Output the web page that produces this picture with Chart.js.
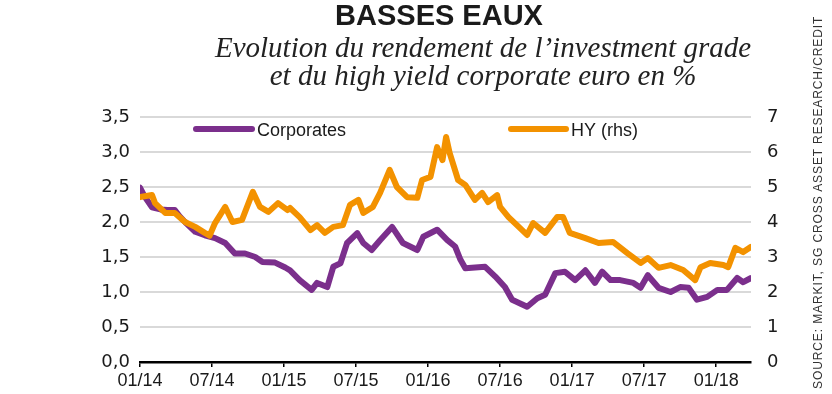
<!DOCTYPE html>
<html>
<head>
<meta charset="utf-8">
<script src="https://cdn.jsdelivr.net/npm/chart.js@4.4.0/dist/chart.umd.min.js"></script>
<style>
    html, body { margin: 0; padding: 0; background: #fff; }
    #wrap { position: relative; width: 832px; height: 394px; overflow: hidden; }
    #chart { position: absolute; left: 0; top: 0; }
    .title { position: absolute; left: 439px; top: 0px; transform: translateX(-50%); font: bold 29px "Liberation Sans", Arial, sans-serif; color: #1a1a1a; white-space: nowrap; line-height: 30px; }
    .sub { position: absolute; left: 483px; transform: translateX(-50%); font: italic 29px "Liberation Serif", serif; color: #222; white-space: nowrap; line-height: 30px; }
    .source { position: absolute; left: 811px; top: 5px; height: 384px; writing-mode: vertical-rl; transform: rotate(180deg); font: 12px "Liberation Sans", Arial, sans-serif; letter-spacing: 0.9px; color: #333; white-space: nowrap; text-align: left; }
</style>
</head>
<body>
<div id="wrap">
    <canvas id="chart" width="832" height="394"></canvas>
    <div class="title">BASSES EAUX</div>
    <div class="sub" style="top:32px">Evolution du rendement de l’investment grade</div>
    <div class="sub" style="top:60px">et du high yield corporate euro en %</div>
    <div class="source">SOURCE: MARKIT, SG CROSS ASSET RESEARCH/CREDIT</div>
</div>
<script>
// months counted from 01/2014
const corpMonths = [0, 0.4, 1, 1.7, 2.3, 2.9, 3.3, 3.75, 4.6, 5.4, 6.25, 7.1, 7.9, 8.75, 9.6, 10.2, 11.25, 12.1, 12.5, 13.3,
    14.3, 14.75, 15.6, 16.1, 16.7, 17.25, 18.1, 18.6, 19.3, 20, 21, 21.9, 23.1, 23.6, 24.75, 25.6, 26.25, 26.7, 27.1, 28.75,
    29.6, 30.4, 31, 32.25, 33.1, 33.75, 34.6, 35.4, 36.25, 37.1, 37.9, 38.5, 39.2, 40, 41.1, 41.7, 42.3, 43.2, 44.2, 45,
    45.7, 46.4, 47.25, 48.1, 48.9, 49.75, 50.25, 50.9];
const corpValues = [2.49, 2.36, 2.21, 2.18, 2.17, 2.17, 2.08, 2.0, 1.86, 1.81, 1.77, 1.70, 1.55, 1.55, 1.50, 1.43, 1.42, 1.35, 1.31, 1.17,
    1.03, 1.13, 1.07, 1.36, 1.41, 1.70, 1.84, 1.70, 1.60, 1.74, 1.93, 1.70, 1.60, 1.79, 1.89, 1.74, 1.65, 1.46, 1.34, 1.36,
    1.22, 1.07, 0.89, 0.79, 0.91, 0.96, 1.27, 1.29, 1.17, 1.31, 1.13, 1.29, 1.17, 1.17, 1.13, 1.06, 1.24, 1.06, 1.00, 1.07,
    1.06, 0.89, 0.93, 1.03, 1.03, 1.20, 1.14, 1.20];

const hyMonths = [0, 1, 1.25, 2.1, 2.9, 3.75, 4.6, 5.4, 5.8, 6.25, 7.1, 7.7, 8.5, 9.4, 10, 10.7, 11.5, 12.3, 12.5, 13.3,
    14.2, 14.75, 15.4, 16.1, 16.9, 17.5, 18.2, 18.6, 19.4, 20, 20.8, 21.4, 22.25, 23.1, 23.5, 24.2, 24.75, 25.2, 25.5, 25.8,
    26.5, 27.1, 27.9, 28.5, 29, 29.75, 30, 30.7, 31.4, 32.25, 32.75, 33.75, 34.75, 35.25, 35.8, 37.1, 38.2, 39.4, 40.6, 41.7,
    42.3, 43.2, 44.2, 45.25, 46.25, 46.7, 47.5, 48.6, 49, 49.6, 50.25, 50.9];
const hyValues = [4.71, 4.77, 4.54, 4.26, 4.26, 4.0, 3.86, 3.69, 3.61, 3.97, 4.43, 4.0, 4.06, 4.86, 4.43, 4.29, 4.54, 4.34, 4.40, 4.14,
    3.77, 3.91, 3.69, 3.86, 3.91, 4.49, 4.63, 4.26, 4.43, 4.83, 5.49, 5.0, 4.71, 4.69, 5.2, 5.29, 6.14, 5.77, 6.43, 5.97,
    5.2, 5.06, 4.63, 4.83, 4.57, 4.77, 4.43, 4.14, 3.91, 3.63, 3.97, 3.69, 4.14, 4.14, 3.69, 3.54, 3.4, 3.43, 3.11, 2.83,
    2.97, 2.69, 2.77, 2.63, 2.34, 2.71, 2.83, 2.77, 2.71, 3.26, 3.14, 3.29];

const tickMonths = [0, 6, 12, 18, 24, 30, 36, 42, 48];
const tickLabels = ['01/14', '07/14', '01/15', '07/15', '01/16', '07/16', '01/17', '07/17', '01/18'];

const purple = '#7b2f8c';
const orange = '#f39200';

const toPoints = (xs, ys) => xs.map((m, i) => ({ x: m, y: ys[i] }));

// legend drawn by hand, the two items sit far apart inside the plot
const legendPlugin = {
    id: 'handLegend',
    afterDraw(chart) {
        const c = chart.ctx;
        const items = [
            { x1: 196, x2: 252, label: 'Corporates', color: purple },
            { x1: 511, x2: 566, label: 'HY (rhs)', color: orange }
        ];
        c.save();
        c.lineCap = 'round';
        c.lineWidth = 6;
        c.font = '18px "Liberation Sans", sans-serif';
        c.fillStyle = '#1a1a1a';
        c.textBaseline = 'middle';
        items.forEach(it => {
            c.strokeStyle = it.color;
            c.beginPath();
            c.moveTo(it.x1, 129);
            c.lineTo(it.x2, 129);
            c.stroke();
            c.fillText(it.label, it.x2 + 5, 131);
        });
        c.restore();
    }
};

const ctx = document.getElementById('chart').getContext('2d');
const chart = new Chart(ctx, {
    type: 'line',
    data: {
        datasets: [{
            label: 'HY (rhs)',
            data: toPoints(hyMonths, hyValues),
            yAxisID: 'yR',
            borderColor: orange,
            borderWidth: 6,
            order: 1
        }, {
            label: 'Corporates',
            data: toPoints(corpMonths, corpValues),
            yAxisID: 'yL',
            borderColor: purple,
            borderWidth: 6,
            order: 2
        }]
    },
    options: {
        responsive: false,
        animation: false,
        layout: { padding: { top: 117, left: 0, right: 0, bottom: 0 } },
        elements: {
            point: { radius: 0 },
            line: { tension: 0, borderJoinStyle: 'round', borderCapStyle: 'round' }
        },
        plugins: { legend: { display: false }, tooltip: { enabled: false } },
        scales: {
            x: {
                type: 'linear',
                min: 0,
                max: 50.9,
                afterBuildTicks: s => { s.ticks = tickMonths.map(v => ({ value: v })); },
                afterFit: s => { s.height = 32; },
                border: { color: '#000', width: 2.5 },
                grid: { drawOnChartArea: false, drawTicks: true, tickLength: 5, color: '#000', lineWidth: 1.5 },
                ticks: {
                    padding: 3,
                    maxRotation: 0,
                    autoSkip: false,
                    color: '#1a1a1a',
                    font: { family: '"Liberation Sans", sans-serif', size: 18 },
                    callback: v => tickLabels[tickMonths.indexOf(v)]
                }
            },
            yL: {
                position: 'left',
                min: 0,
                max: 3.5,
                afterFit: s => { s.width = 140; },
                border: { display: false },
                grid: { color: '#d9d9d9', lineWidth: 2, drawTicks: false },
                ticks: {
                    stepSize: 0.5,
                    padding: 10,
                    color: '#1a1a1a',
                    font: { family: '"DejaVu Sans", sans-serif', size: 18 },
                    callback: v => v.toFixed(1).replace('.', ',')
                }
            },
            yR: {
                position: 'right',
                min: 0,
                max: 7,
                afterFit: s => { s.width = 81; },
                border: { display: false },
                grid: { drawOnChartArea: false, drawTicks: false },
                ticks: {
                    stepSize: 1,
                    padding: 16,
                    color: '#1a1a1a',
                    font: { family: '"DejaVu Sans", sans-serif', size: 18 }
                }
            }
        }
    },
    plugins: [legendPlugin]
});
</script>
</body>
</html>
